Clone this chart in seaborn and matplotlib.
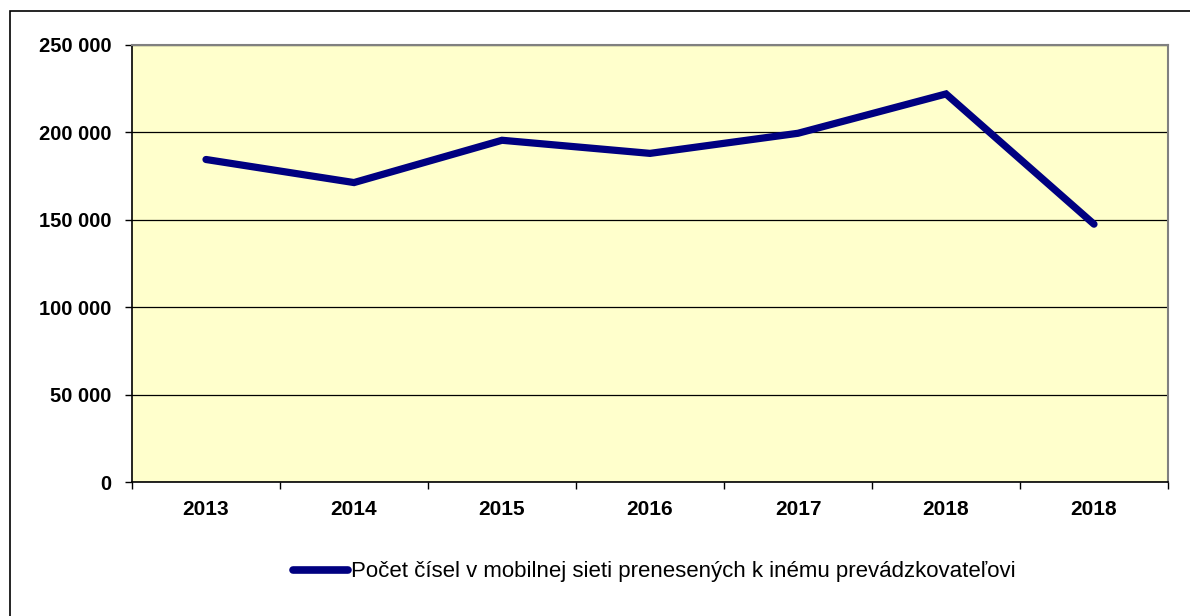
import matplotlib
matplotlib.use('Agg')
import matplotlib.pyplot as plt
import matplotlib.ticker as mticker
from matplotlib.patches import Rectangle
import seaborn as sns
import pandas as pd

# Data
roky = ['2013', '2014', '2015', '2016', '2017', '2018', '2018']
prenesene = [184500, 171300, 195500, 188000, 199500, 222000, 147500]
nazov_serie = 'Počet čísel v mobilnej sieti prenesených k inému prevádzkovateľovi'

df = pd.DataFrame({'poz': range(len(roky)), 'hodnota': prenesene})

sns.set_style('white')
plt.rcParams['font.family'] = ['Liberation Sans', 'DejaVu Sans']
plt.rcParams['text.color'] = 'black'
plt.rcParams['xtick.color'] = 'black'
plt.rcParams['ytick.color'] = 'black'

fig = plt.figure(figsize=(11.9, 6.16), dpi=100)
ax = fig.add_axes([132 / 1190, 1 - 482 / 616, (1168 - 132) / 1190, (482 - 45) / 616])
ax.set_facecolor('#FFFFCC')

sns.lineplot(data=df, x='poz', y='hodnota', ax=ax, color='#000080',
             linewidth=5.2, label=nazov_serie, legend=False,
             solid_capstyle='round', solid_joinstyle='miter')

ax.set_ylim(0, 250000)
ax.set_xlim(-0.5, len(roky) - 0.5)
ax.yaxis.set_major_locator(mticker.MultipleLocator(50000))
ax.yaxis.set_major_formatter(mticker.FuncFormatter(lambda v, p: f'{int(v):,}'.replace(',', ' ')))
ax.grid(axis='y', color='black', linewidth=0.9)
ax.set_axisbelow(True)

# kategorie: ticky na hraniciach, popisky v strede
ax.set_xticks([i - 0.5 for i in range(len(roky) + 1)])
ax.set_xticklabels([])
ax.set_xticks(range(len(roky)), minor=True)
ax.set_xticklabels(roky, minor=True)
ax.tick_params(axis='x', which='major', direction='out', length=5, width=1, color='black', bottom=True)
ax.tick_params(axis='x', which='minor', length=0, pad=13, labelsize=15, labelcolor='black')
ax.tick_params(axis='y', direction='out', length=5, width=1, color='black', left=True,
               labelsize=14.5, pad=10, labelcolor='black')
for lbl in ax.get_xticklabels(minor=True) + ax.get_yticklabels():
    lbl.set_fontweight('bold')

ax.set_xlabel('')
ax.set_ylabel('')
for s in ['left', 'bottom']:
    ax.spines[s].set_color('black')
    ax.spines[s].set_linewidth(1.2)
for s in ['top', 'right']:
    ax.spines[s].set_color('#808080')
    ax.spines[s].set_linewidth(1.5)

handles, labels = ax.get_legend_handles_labels()
leg = fig.legend(handles, labels, loc='center', bbox_to_anchor=(0.5496, 1 - 572 / 616),
                 frameon=False, fontsize=16, handlelength=2.5, handletextpad=0.12,
                 labelcolor='black')
for ln in leg.get_lines():
    ln.set_linewidth(5.5)

# vonkajsi ramik grafu
fig.patches.append(Rectangle((10 / 1190, -0.05), 1.1, 1 - 11 / 616 + 0.05,
                             transform=fig.transFigure, fill=False,
                             edgecolor='black', linewidth=1.2))

fig.savefig('out.png', dpi=100)
